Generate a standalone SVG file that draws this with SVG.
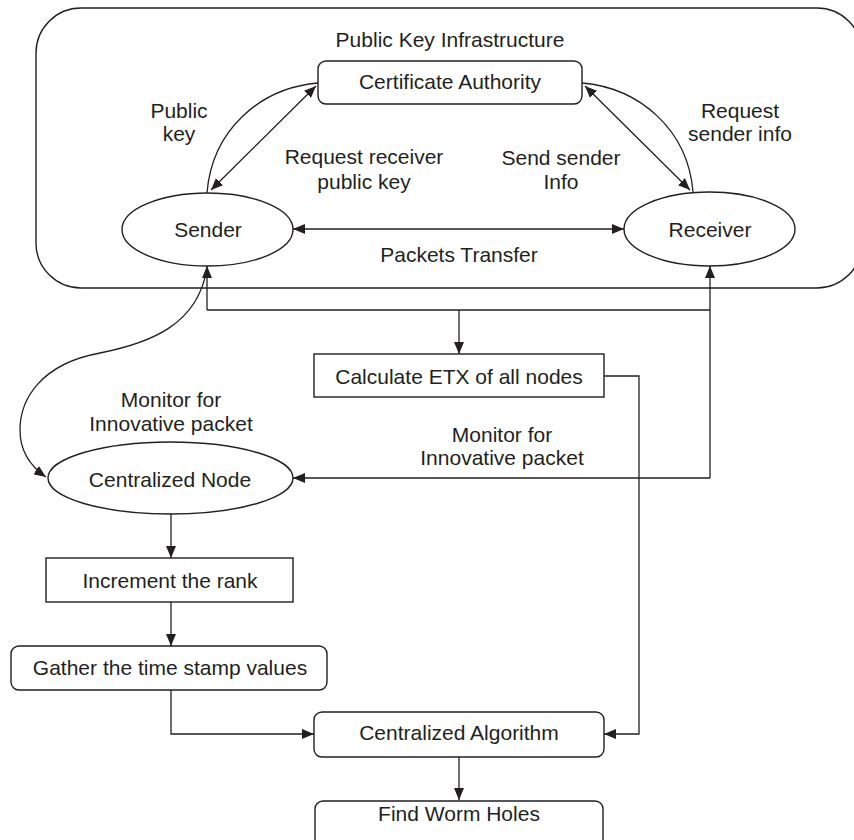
<svg xmlns="http://www.w3.org/2000/svg" width="854" height="840" viewBox="0 0 854 840">
<style>
.shape{fill:#fff;stroke:#231f20;stroke-width:1.4}
.conn{fill:none;stroke:#231f20;stroke-width:1.3}
text{font-family:"Liberation Sans",Arial,sans-serif;font-size:21px;fill:#231f20;text-anchor:middle}
</style>
<defs>
<marker id="arr" viewBox="0 0 12 10" refX="12" refY="5" markerWidth="12" markerHeight="10" markerUnits="userSpaceOnUse" orient="auto-start-reverse">
<path d="M0,0 L12,5 L0,10 z" fill="#231f20"/>
</marker>
</defs>
<rect width="854" height="840" fill="#fff"/>
<g id="pki">
<rect class="shape" x="36" y="8" width="826" height="280" rx="45" ry="45"/>
<text x="450" y="47">Public Key Infrastructure</text>
</g>
<g id="connectors">
<path class="conn" d="M293,229 L624,229" marker-start="url(#arr)" marker-end="url(#arr)"/>
<path class="conn" d="M211,190 L316,86" marker-start="url(#arr)" marker-end="url(#arr)"/>
<path class="conn" d="M207,193 C212,130 260,88 318,83"/>
<path class="conn" d="M585,86 L690,190" marker-start="url(#arr)" marker-end="url(#arr)"/>
<path class="conn" d="M582,83 C640,88 688,130 693,192"/>
<path class="conn" d="M207,310 H710"/>
<path class="conn" d="M207,310 V266" marker-end="url(#arr)"/>
<path class="conn" d="M710,478 V266" marker-end="url(#arr)"/>
<path class="conn" d="M459,310 V354" marker-end="url(#arr)"/>
<path class="conn" d="M710,478 H293" marker-end="url(#arr)"/>
<path class="conn" d="M207,268 C198,325 150,343 100,353 C40,364 20,400 20,430 C20,452 30,466 46,477" marker-end="url(#arr)"/>
<path class="conn" d="M171,514 V558" marker-end="url(#arr)"/>
<path class="conn" d="M171,602 V646" marker-end="url(#arr)"/>
<path class="conn" d="M171,690 V734 H314" marker-end="url(#arr)"/>
<path class="conn" d="M604,376 H639 V734 H604" marker-end="url(#arr)"/>
<path class="conn" d="M459,757 V800" marker-end="url(#arr)"/>
</g>
<g id="labels">
<text x="179" y="118">Public</text>
<text x="179" y="141">key</text>
<text x="364" y="164">Request receiver</text>
<text x="364" y="189">public key</text>
<text x="561" y="165">Send sender</text>
<text x="561" y="189">Info</text>
<text x="740" y="118">Request</text>
<text x="740" y="141">sender info</text>
<text x="459" y="262">Packets Transfer</text>
<text x="171" y="407">Monitor for</text>
<text x="171" y="431">Innovative packet</text>
<text x="502" y="442">Monitor for</text>
<text x="502" y="465">Innovative packet</text>
</g>
<g id="ca">
<rect class="shape" x="318" y="61" width="264" height="43" rx="8" ry="8"/>
<text x="450" y="89">Certificate Authority</text>
</g>
<g id="sender">
<ellipse class="shape" cx="207.5" cy="229.5" rx="85.5" ry="36.5"/>
<text x="208" y="237">Sender</text>
</g>
<g id="receiver">
<ellipse class="shape" cx="709.5" cy="229" rx="85.5" ry="37"/>
<text x="710" y="237">Receiver</text>
</g>
<g id="etx">
<rect class="shape" x="314" y="354" width="290" height="43"/>
<text x="459" y="384">Calculate ETX of all nodes</text>
</g>
<g id="centralNode">
<ellipse class="shape" cx="170.5" cy="478" rx="122.5" ry="36"/>
<text x="170" y="487">Centralized Node</text>
</g>
<g id="increment">
<rect class="shape" x="46" y="558" width="247" height="44"/>
<text x="170" y="588">Increment the rank</text>
</g>
<g id="gather">
<rect class="shape" x="11" y="646" width="316" height="44" rx="8" ry="8"/>
<text x="170" y="675">Gather the time stamp values</text>
</g>
<g id="algo">
<rect class="shape" x="314" y="712" width="290" height="45" rx="8" ry="8"/>
<text x="459" y="740">Centralized Algorithm</text>
</g>
<g id="worm">
<rect class="shape" x="315" y="801" width="288" height="50" rx="8" ry="8"/>
<text x="459" y="821">Find Worm Holes</text>
</g>
</svg>
